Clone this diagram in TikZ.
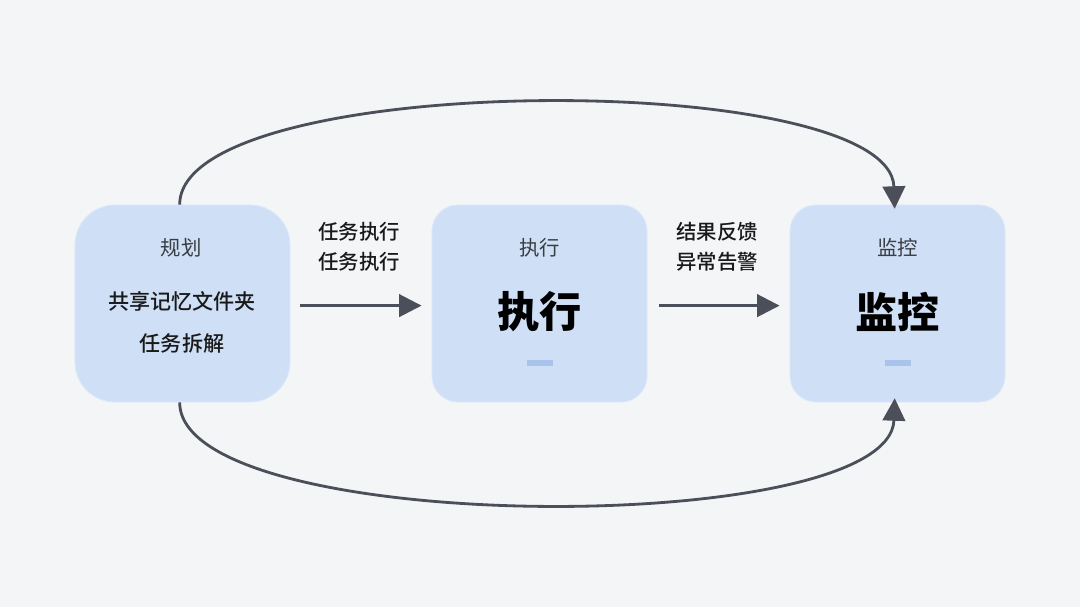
\documentclass[tikz,border=0pt]{standalone}
\usepackage{fontspec}
\setmainfont{Noto Sans CJK SC}
\newfontfamily\medfont{Noto Sans CJK SC Medium}
\usetikzlibrary{arrows.meta,positioning}

\definecolor{bgcol}{HTML}{F4F5F7}
\definecolor{boxcol}{HTML}{CEDFF6}
\definecolor{barcol}{HTML}{A9C3EB}
\definecolor{linecol}{HTML}{4A4F59}
\definecolor{titlecol}{HTML}{3A3D42}

\begin{document}
\begin{tikzpicture}[x=0.025cm, y=-0.025cm,
    stage/.style={rectangle, fill=boxcol, draw=boxcol!70!white, line width=0.6pt, minimum width=5.375cm, minimum height=4.925cm, rounded corners=0.65cm, inner sep=0pt},
    title/.style={font=\fontsize{14.5}{16}\selectfont, text=titlecol, inner sep=0pt},
    note/.style={font=\medfont\fontsize{14.5}{21}\selectfont, text=black!90, inner sep=0pt, align=center},
    big/.style={font=\bfseries\fontsize{30}{34}\selectfont, inner sep=0pt},
    bar/.style={rectangle, fill=barcol, minimum width=0.65cm, minimum height=0.15cm, inner sep=0pt},
    flow/.style={draw=linecol, line width=2pt, -{Triangle[length=16pt,width=16pt]}}]
  \fill[bgcol] (0,0) rectangle (1080,607);

  % the three stages
  \node[stage, rounded corners=1cm] (plan) at (182.5,303.5) {};
  \node[stage] (exec) at (539.5,303.5) {};
  \node[stage] (mon) at (897.5,303.5) {};

  \node[title] (plan-t) at (181,248) {规划};
  \node[note, font=\medfont\fontsize{15}{18}\selectfont] (plan-a) at (182,301) {共享记忆文件夹};
  \node[note, font=\medfont\fontsize{15}{18}\selectfont] (plan-b) at (182,343) {任务拆解};

  \node[title] (exec-t) at (539.5,248) {执行};
  \node[big] (exec-b) at (539.5,312) {执行};
  \node[bar] (exec-bar) at (539.5,363) {};

  \node[title] (mon-t) at (897.5,248) {监控};
  \node[big] (mon-b) at (897.5,312) {监控};
  \node[bar] (mon-bar) at (897.5,363) {};

  % straight arrows
  \draw[flow] ([xshift=0.25cm,yshift=-1.5]plan.east) -- ([xshift=-0.25cm,yshift=-1.5]exec.west);
  \draw[flow] ([xshift=0.3cm,yshift=-1.5]exec.east) -- ([xshift=-0.25cm,yshift=-1.5]mon.west);
  \node[note] (lab1) at (359,247) {任务执行\\任务执行};
  \node[note] (lab2) at (717,247) {结果反馈\\异常告警};

  % loops round the top and bottom
  \draw[flow] ([xshift=-2]plan.north) .. controls (180,70) and (890,68) .. ([xshift=-2,yshift=-3]mon.north);
  \draw[flow] ([xshift=-2]plan.south) .. controls (180,537) and (890,539) .. ([xshift=-2,yshift=3]mon.south);
\end{tikzpicture}
\end{document}
